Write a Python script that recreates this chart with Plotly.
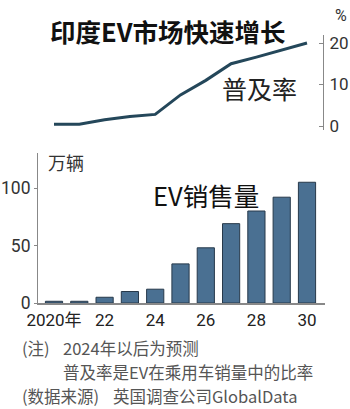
import plotly.graph_objects as go

# India EV market: penetration rate (%) and EV sales (10k units)
years = [2020, 2021, 2022, 2023, 2024, 2025, 2026, 2027, 2028, 2029, 2030]
penetration = [0.4, 0.4, 1.5, 2.3, 2.8, 7.5, 11.0, 15.0, 16.6, 18.3, 20.0]
sales = [1.5, 1.5, 5, 10, 12, 34, 48, 69, 80, 92, 105]

x_tickvals = [2020, 2022, 2024, 2026, 2028, 2030]
x_ticktext = ["2020年", "22", "24", "26", "28", "30"]
pen_ticks = [0, 10, 20]
sales_ticks = [0, 50, 100]

# footnote pieces: (text, left x px, centre y px)
note_parts = [
    ("(注)", 20, 348),
    ("2024年以后为预测", 61, 348),
    ("普及率是EV在乘用车销量中的比率", 61, 372),
    ("(数据来源)", 20, 396),
    ("英国调查公司GlobalData", 111, 396),
]

W, H = 350, 409
CJK = "Noto Sans CJK SC"
NUM = "Roboto, Noto Sans CJK SC"


def px_x(p):
    return p / W


def px_y(p):
    return 1 - p / H


fig = go.Figure()

fig.add_trace(go.Scatter(
    x=years, y=penetration, mode="lines",
    line=dict(color="#24475a", width=3),
    xaxis="x", yaxis="y", showlegend=False, hoverinfo="skip",
))

fig.add_trace(go.Bar(
    x=years, y=sales, width=0.68,
    marker=dict(color="#4a7092", line=dict(color="#27394a", width=1)),
    xaxis="x2", yaxis="y2", showlegend=False, hoverinfo="skip",
))

step = 25.3  # pixels per year
fig.update_layout(
    width=W, height=H,
    margin=dict(l=0, r=0, t=0, b=0, autoexpand=False),
    paper_bgcolor="white", plot_bgcolor="white",
    font=dict(family=CJK, color="#222"),
    xaxis=dict(
        domain=[px_x(38), px_x(323)],
        range=[2020 - 16 / step, 2030 + 16 / step],
        visible=False, anchor="y", automargin=False,
    ),
    yaxis=dict(
        domain=[px_y(130), px_y(35)],
        range=[-4 / 4.15, 20 + 8 / 4.15],
        side="right", anchor="x", automargin=False,
        showline=True, linecolor="#888", linewidth=1,
        ticks="inside", ticklen=4, tickcolor="#888",
        tickvals=pen_ticks, showgrid=False, zeroline=False,
        ticklabelstandoff=2,
        tickfont=dict(family=NUM, size=17, color="#333"),
    ),
    xaxis2=dict(
        domain=[px_x(38), px_x(325)],
        range=[2020 - 16 / step, 2030 + 18 / step],
        anchor="y2", automargin=False,
        showline=True, linecolor="#888", linewidth=1.5,
        ticks="", tickvals=x_tickvals, ticktext=x_ticktext,
        showgrid=False, zeroline=False,
        ticklabelstandoff=1,
        tickfont=dict(family=NUM, size=17, color="#222"),
    ),
    yaxis2=dict(
        domain=[px_y(303), px_y(153)],
        range=[0, 150 / 1.15],
        anchor="x2", automargin=False,
        showline=True, linecolor="#888", linewidth=1,
        ticks="outside", ticklen=3, tickcolor="#888",
        tickvals=sales_ticks, showgrid=False, zeroline=False,
        tickfont=dict(family=NUM, size=17.5, color="#333"),
    ),
    bargap=0.3,
)

annotations = [
    dict(text="<b>印度EV市场快速增长</b>", x=px_x(48), y=px_y(30), xanchor="left",
         yanchor="middle", font=dict(family=CJK, size=25.5, color="#111")),
    dict(text="%", x=px_x(341), y=px_y(15), xanchor="center", yanchor="middle",
         font=dict(family=NUM, size=16, color="#333")),
    dict(text="普及率", x=px_x(259), y=px_y(88), xanchor="center", yanchor="middle",
         font=dict(family=CJK, size=25, color="#222")),
    dict(text="万辆", x=px_x(46), y=px_y(162), xanchor="left", yanchor="middle",
         font=dict(family=CJK, size=18, color="#333")),
    dict(text="EV销售量", x=px_x(151), y=px_y(194), xanchor="left", yanchor="middle",
         font=dict(family=CJK, size=25.5, color="#111")),
]

for text, nx, ny in note_parts:
    annotations.append(dict(
        text=text, x=px_x(nx), y=px_y(ny), xanchor="left", yanchor="middle",
        font=dict(family=CJK, size=16.5, color="#555"),
    ))

for a in annotations:
    a.update(xref="paper", yref="paper", showarrow=False)
fig.update_layout(annotations=annotations)

fig.write_html("out.html")
